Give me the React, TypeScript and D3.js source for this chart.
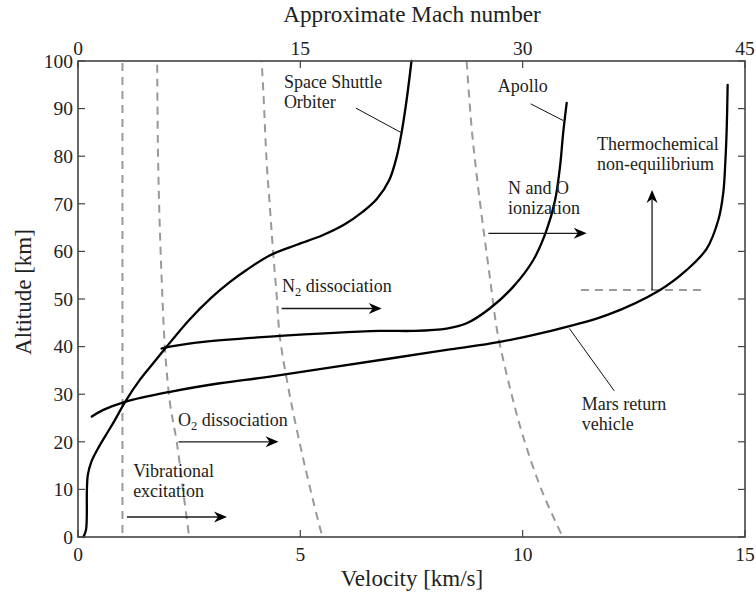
import React from "react";
import * as d3 from "d3";

// ---------- data ----------
const velocityTicks = [0, 5, 10, 15];
const machTicks = [0, 15, 30, 45];
const altitudeTicks = [0, 10, 20, 30, 40, 50, 60, 70, 80, 90, 100];

// trajectories (velocity km/s, altitude km)
const shuttleV = [0.12, 0.18, 0.2, 0.22, 0.3, 0.45, 0.62, 0.82, 1.06, 1.39, 1.7, 1.96, 2.5, 3.0, 3.42, 3.79, 4.32, 4.92, 5.5, 6.0, 6.4, 6.72, 7.0, 7.17, 7.28, 7.39, 7.5];
const shuttleH = [0, 1.5, 9.9, 13.0, 15.8, 18.6, 21.3, 24.4, 28.4, 33, 36.6, 39.6, 45.6, 50.3, 53.6, 56.1, 59.2, 61.4, 63.4, 65.7, 68.3, 71.0, 75.0, 80.0, 85.1, 91.8, 100];

const apolloV = [1.88, 2.07, 2.82, 4.32, 6.79, 7.54, 8.29, 8.74, 9.26, 9.79, 10.24, 10.54, 10.73, 10.84, 10.91, 10.99];
const apolloH = [39.6, 40, 41, 42.1, 43.3, 43.3, 43.8, 44.9, 48, 52.6, 58.2, 64.5, 70.8, 77.8, 84.8, 91.2];

const marsV = [0.31, 0.57, 1.06, 2.07, 3.19, 4.32, 7.02, 8.29, 9.49, 10.54, 11.89, 13.09, 13.69, 14.14, 14.4, 14.51, 14.56, 14.59, 14.61];
const marsH = [25.3, 26.7, 28.4, 30.5, 32.3, 33.7, 37.5, 39.3, 41, 43.1, 46.6, 51.9, 56.1, 60.6, 66.6, 72.2, 79.2, 86.2, 95];

// regime boundaries (dashed)
const vibV = [1.0, 1.0];
const vibH = [0, 100];
const o2V = [2.5, 2.36, 2.22, 2.07, 1.96, 1.9, 1.84, 1.8, 1.78];
const o2H = [0, 10, 20, 28, 39, 50, 65, 80, 100];
const n2V = [5.5, 5.44, 5.1, 4.77, 4.54, 4.47, 4.39, 4.32, 4.24, 4.17, 4.13];
const n2H = [0, 2, 15, 29.4, 42, 50.5, 59.6, 68.7, 79.2, 93.2, 100];
const ionV = [10.9, 10.42, 10.0, 9.75, 9.53, 9.41, 9.26, 9.11, 8.97, 8.85, 8.74];
const ionH = [0, 10, 21.4, 30, 38.6, 44.2, 54.7, 65.2, 75.7, 86.2, 100];
const thermoV = [11.31, 14.11];
const thermoH = [51.9, 51.9];

// arrows: [v1, h1, v2, h2]
const arrowList: number[][] = [
  [1.1, 4.2, 3.35, 4.2],
  [2.26, 20.0, 4.51, 20.0],
  [4.58, 48.0, 6.83, 48.0],
  [9.23, 63.8, 11.44, 63.8],
  [12.91, 51.9, 12.91, 72.9],
];

// leader lines: [v1, h1, v2, h2]
const leaderList: number[][] = [
  [6.25, 90.1, 7.26, 85.0],
  [10.18, 91.0, 10.91, 87.5],
  [11.05, 43.8, 12.06, 30.7],
];

// text labels: text lines, anchor v, h (baseline of first line)
const labelTexts = [
  ["Space Shuttle", "Orbiter"],
  ["Apollo"],
  ["Thermochemical", "non-equilibrium"],
  ["N and O", "ionization"],
  ["N|2| dissociation"],
  ["O|2| dissociation"],
  ["Vibrational", "excitation"],
  ["Mars return", "vehicle"],
];
const labelV = [4.63, 9.44, 11.67, 9.67, 4.59, 2.25, 1.24, 11.33];
const labelH = [94.3, 93.5, 81.3, 72.1, 51.5, 23.3, 12.6, 26.7];

// ---------- layout ----------
const W = 756, H = 594;
const L = 78, R = 745, T = 61, B = 537;
const FONT = "'Liberation Serif', 'Times New Roman', serif";

const x = d3.scaleLinear().domain([0, 15]).range([L, R]);
const xm = d3.scaleLinear().domain([0, 45]).range([L, R]);
const y = d3.scaleLinear().domain([0, 100]).range([B, T]);

const zip = (a: number[], b: number[]) => a.map((v, i) => [v, b[i]] as [number, number]);
const curve = d3.line<[number, number]>().x(d => x(d[0])).y(d => y(d[1])).curve(d3.curveCatmullRom.alpha(0.5));
const straight = d3.line<[number, number]>().x(d => x(d[0])).y(d => y(d[1]));

function Arrow({ a }: { a: number[] }) {
  const x1 = x(a[0]), y1 = y(a[1]), x2 = x(a[2]), y2 = y(a[3]);
  const rad = Math.atan2(y2 - y1, x2 - x1);
  const ang = rad * 180 / Math.PI;
  return (
    <g>
      <line x1={x1} y1={y1} x2={x2 - 6 * Math.cos(rad)} y2={y2 - 6 * Math.sin(rad)} stroke="#1a1a1a" strokeWidth={1.3} />
      <path d="M0,0 L-13,-5.5 L-9,0 L-13,5.5 Z" fill="#000" transform={`translate(${x2},${y2}) rotate(${ang})`} />
    </g>
  );
}

function Label({ lines, v, h }: { lines: string[]; v: number; h: number }) {
  return (
    <text x={x(v)} y={y(h)} fontFamily={FONT} fontSize={18} fill="#222">
      {lines.map((ln, i) => {
        const parts = ln.split("|");
        if (parts.length === 1) return <tspan key={i} x={x(v)} dy={i === 0 ? 0 : 20}>{ln}</tspan>;
        return (
          <tspan key={i} x={x(v)} dy={i === 0 ? 0 : 20}>
            {parts[0]}
            <tspan fontSize={12.5} dy={4}>{parts[1]}</tspan>
            <tspan dy={-4}>{parts[2]}</tspan>
          </tspan>
        );
      })}
    </text>
  );
}

export default function App() {
  const axisColor = "#444";
  const tickLen = 7;
  const dashed = [zip(vibV, vibH), zip(o2V, o2H), zip(n2V, n2H), zip(ionV, ionH)];
  return (
    <svg width={W} height={H} style={{ position: "absolute", left: 0, top: 0, background: "#fff" }}>
      <rect width={W} height={H} fill="#fff" />
      {/* dashed regime boundaries */}
      {dashed.map((d, i) => (
        <path key={i} d={curve(d) || ""} fill="none" stroke="#999" strokeWidth={2} strokeDasharray="8,6" strokeDashoffset={-4} />
      ))}
      <path d={straight(zip(thermoV, thermoH)) || ""} fill="none" stroke="#999" strokeWidth={2} strokeDasharray="8,6" />

      {/* trajectories */}
      {[zip(shuttleV, shuttleH), zip(apolloV, apolloH), zip(marsV, marsH)].map((d, i) => (
        <path key={i} d={curve(d) || ""} fill="none" stroke="#000" strokeWidth={2.3} strokeLinecap="round" />
      ))}

      {/* leaders */}
      {leaderList.map((l, i) => (
        <line key={i} x1={x(l[0])} y1={y(l[1])} x2={x(l[2])} y2={y(l[3])} stroke="#111" strokeWidth={1} />
      ))}

      {/* arrows */}
      {arrowList.map((a, i) => <Arrow key={i} a={a} />)}

      {/* labels */}
      {labelTexts.map((t, i) => <Label key={i} lines={t} v={labelV[i]} h={labelH[i]} />)}

      {/* axes box */}
      <rect x={L} y={T} width={R - L} height={B - T} fill="none" stroke={axisColor} strokeWidth={1.6} />
      {altitudeTicks.map(t => (
        <g key={"yt" + t}>
          <line x1={L} x2={L + tickLen} y1={y(t)} y2={y(t)} stroke={axisColor} strokeWidth={1.2} />
          <line x1={R} x2={R - tickLen} y1={y(t)} y2={y(t)} stroke={axisColor} strokeWidth={1.2} />
          <text x={L - 5} y={y(t)} dy="0.35em" textAnchor="end" fontFamily={FONT} fontSize={19.5} fill="#222">{t}</text>
        </g>
      ))}
      {velocityTicks.map(t => (
        <g key={"xt" + t}>
          <line x1={x(t)} x2={x(t)} y1={B} y2={B - tickLen} stroke={axisColor} strokeWidth={1.2} />
          <text x={x(t)} y={561} textAnchor="middle" fontFamily={FONT} fontSize={19.5} fill="#222">{t}</text>
        </g>
      ))}
      {machTicks.map(t => (
        <g key={"mt" + t}>
          <line x1={xm(t)} x2={xm(t)} y1={T} y2={T + tickLen} stroke={axisColor} strokeWidth={1.2} />
          <text x={xm(t)} y={55} textAnchor="middle" fontFamily={FONT} fontSize={19.5} fill="#222">{t}</text>
        </g>
      ))}

      {/* axis titles */}
      <text x={(L + R) / 2 + 0.5} y={586} textAnchor="middle" fontFamily={FONT} fontSize={23} fill="#222">Velocity [km/s]</text>
      <text x={(L + R) / 2 + 0.5} y={22} textAnchor="middle" fontFamily={FONT} fontSize={23.2} fill="#222">Approximate Mach number</text>
      <text transform={`translate(31,${(T + B) / 2 - 7}) rotate(-90)`} textAnchor="middle" fontFamily={FONT} fontSize={23} fill="#222">Altitude [km]</text>
    </svg>
  );
}
